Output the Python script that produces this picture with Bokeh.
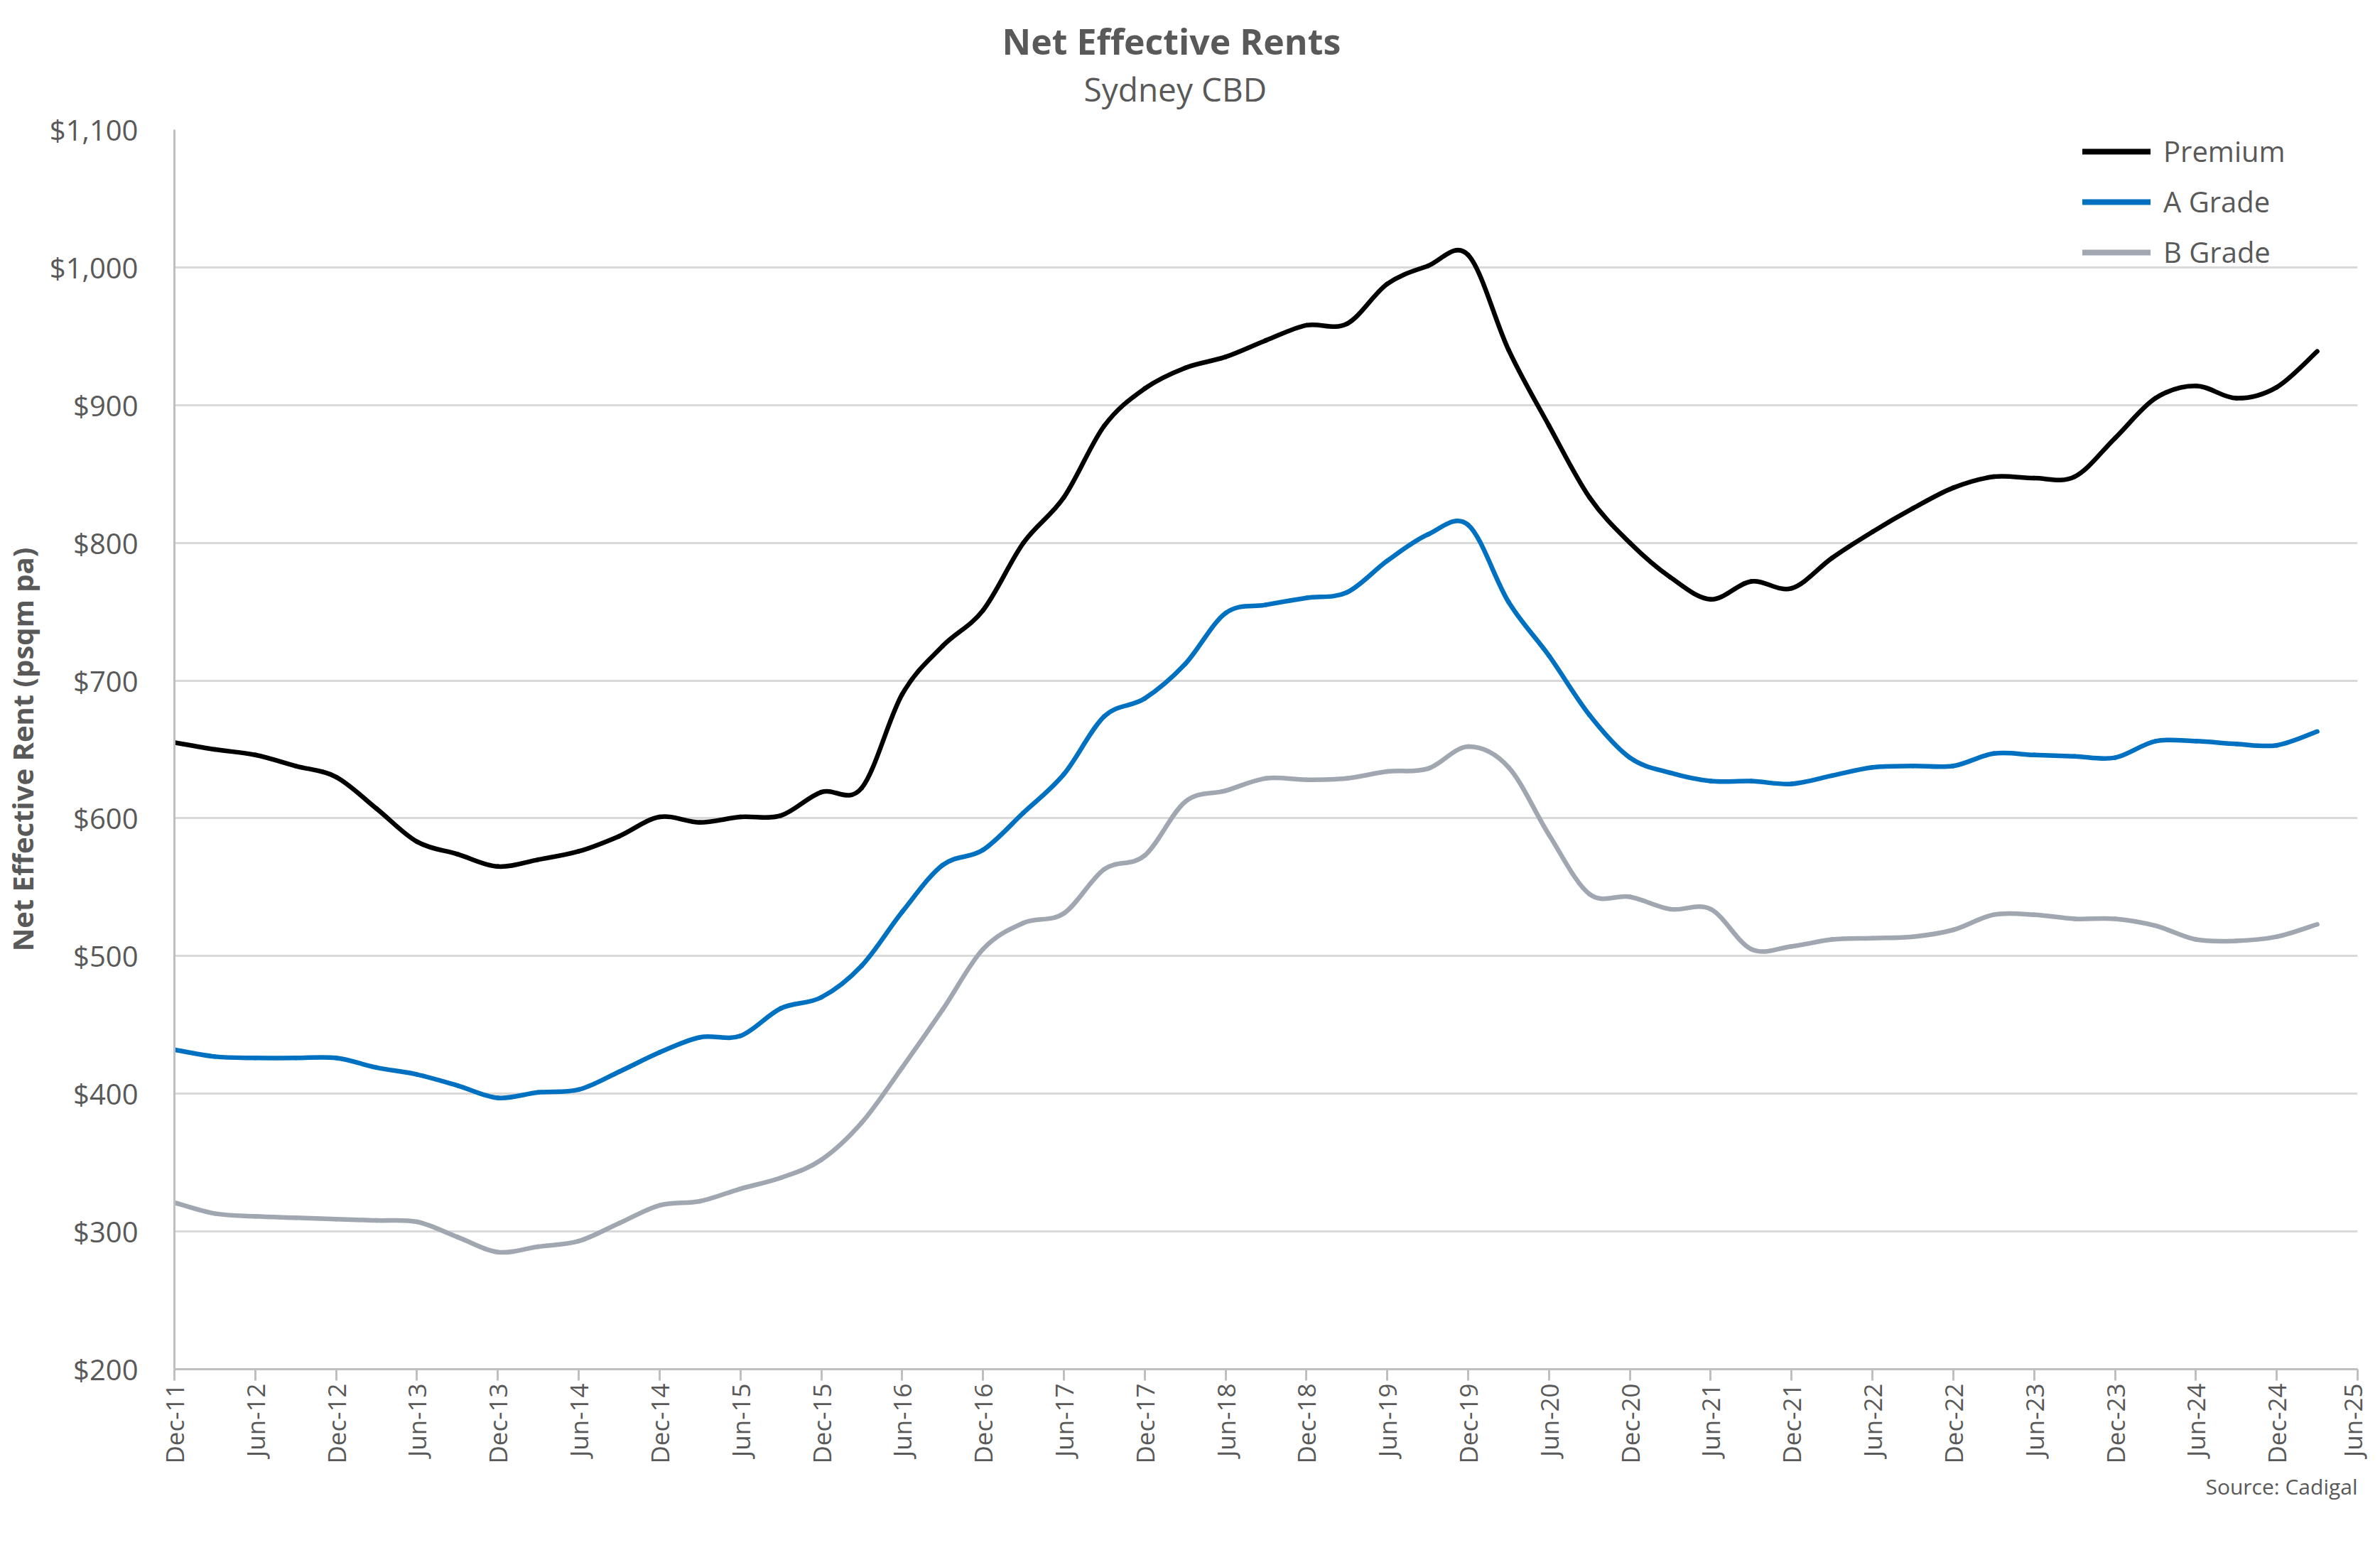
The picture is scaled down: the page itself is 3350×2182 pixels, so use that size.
import math
from bokeh.plotting import figure
from bokeh.models import (Range1d, FixedTicker, NumeralTickFormatter, Legend,
                          LegendItem, Title, ColumnDataSource)
from bokeh.embed import file_html
from bokeh.resources import INLINE

# ---------------- data ----------------
quarters = ["Dec-11", "Mar-12", "Jun-12", "Sep-12", "Dec-12", "Mar-13", "Jun-13", "Sep-13",
            "Dec-13", "Mar-14", "Jun-14", "Sep-14", "Dec-14", "Mar-15", "Jun-15", "Sep-15",
            "Dec-15", "Mar-16", "Jun-16", "Sep-16", "Dec-16", "Mar-17", "Jun-17", "Sep-17",
            "Dec-17", "Mar-18", "Jun-18", "Sep-18", "Dec-18", "Mar-19", "Jun-19", "Sep-19",
            "Dec-19", "Mar-20", "Jun-20", "Sep-20", "Dec-20", "Mar-21", "Jun-21", "Sep-21",
            "Dec-21", "Mar-22", "Jun-22", "Sep-22", "Dec-22", "Mar-23", "Jun-23", "Sep-23",
            "Dec-23", "Mar-24", "Jun-24", "Sep-24", "Dec-24", "Mar-25"]

premium = [655, 650, 646, 638, 630, 607, 583, 574,
           565, 570, 576, 587, 601, 597, 601, 602,
           619, 622, 690, 725, 751, 800, 833, 885,
           912, 927, 935, 947, 958, 959, 988, 1001,
           1009, 940, 885, 833, 800, 775, 759, 772,
           767, 789, 808, 825, 840, 848, 847, 848,
           876, 905, 914, 905, 913, 939]

a_grade = [432, 427, 426, 426, 426, 419, 414, 406,
           397, 401, 403, 416, 430, 441, 442, 462,
           470, 493, 532, 566, 577, 604, 632, 674,
           687, 712, 749, 755, 760, 764, 787, 806,
           813, 757, 718, 675, 644, 633, 627, 627,
           625, 631, 637, 638, 638, 647, 646, 645,
           644, 656, 656, 654, 653, 663]

b_grade = [321, 313, 311, 310, 309, 308, 307, 296,
           285, 289, 293, 306, 319, 322, 331, 339,
           352, 379, 419, 461, 505, 524, 531, 563,
           573, 612, 620, 629, 628, 629, 634, 636,
           652, 637, 588, 545, 543, 534, 534, 505,
           507, 512, 513, 514, 519, 530, 530, 527,
           527, 522, 512, 511, 514, 523]

tick_labels = ["Dec-11", "Jun-12", "Dec-12", "Jun-13", "Dec-13", "Jun-14", "Dec-14",
               "Jun-15", "Dec-15", "Jun-16", "Dec-16", "Jun-17", "Dec-17", "Jun-18",
               "Dec-18", "Jun-19", "Dec-19", "Jun-20", "Dec-20", "Jun-21", "Dec-21",
               "Jun-22", "Dec-22", "Jun-23", "Dec-23", "Jun-24", "Dec-24", "Jun-25"]

y_ticks = [200, 300, 400, 500, 600, 700, 800, 900, 1000, 1100]

series_names = ["Premium", "A Grade", "B Grade"]
series_colors = ["#000000", "#0070C0", "#A0A7B0"]

# ---------------- layout ----------------
FONT = "Open Sans"
TXT = "#595959"

months = [3 * i for i in range(len(quarters))]
tick_pos = [6 * i for i in range(len(tick_labels))]

p = figure(width=3334, height=2166, output_backend="svg", toolbar_location=None,
           x_range=Range1d(0, tick_pos[-1]), y_range=Range1d(y_ticks[0], y_ticks[-1]),
           min_border_left=245, min_border_right=16, min_border_top=182,
           min_border_bottom=239)
p.outline_line_color = None
p.background_fill_color = "white"
p.border_fill_color = "white"

# x axis
p.xaxis.ticker = FixedTicker(ticks=tick_pos)
p.xaxis.major_label_overrides = {t: l for t, l in zip(tick_pos, tick_labels)}
p.xaxis.major_label_orientation = math.pi / 2
p.xaxis.major_label_text_font = FONT
p.xaxis.major_label_text_font_size = "35px"
p.xaxis.major_label_text_color = TXT
p.xaxis.major_label_standoff = 4
p.xaxis.axis_line_color = "#BFBFBF"
p.xaxis.axis_line_width = 3
p.xaxis.major_tick_line_color = "#BFBFBF"
p.xaxis.major_tick_line_width = 3
p.xaxis.major_tick_out = 16
p.xaxis.major_tick_in = 0
p.xaxis.minor_tick_line_color = None

# y axis
p.yaxis.ticker = FixedTicker(ticks=y_ticks)
p.yaxis.formatter = NumeralTickFormatter(format="$0,0")
p.yaxis.major_label_text_font = FONT
p.yaxis.major_label_text_font_size = "40px"
p.yaxis.major_label_text_color = TXT
p.yaxis.major_label_standoff = 45
p.yaxis.axis_line_color = "#BFBFBF"
p.yaxis.axis_line_width = 3
p.yaxis.major_tick_line_color = None
p.yaxis.minor_tick_line_color = None
p.yaxis.axis_label = "Net Effective Rent (psqm pa)"
p.yaxis.axis_label_text_font = FONT
p.yaxis.axis_label_text_font_style = "bold"
p.yaxis.axis_label_text_font_size = "40px"
p.yaxis.axis_label_text_color = TXT
p.yaxis.axis_label_standoff = 8

p.xgrid.grid_line_color = None
p.ygrid.grid_line_color = "#D9D9D9"
p.ygrid.grid_line_width = 3


def smooth_segments(xs, ys):
    # Catmull-Rom style Bezier segments (like Excel's smoothed line)
    n = len(xs)
    d = dict(x0=[], y0=[], x1=[], y1=[], cx0=[], cy0=[], cx1=[], cy1=[])
    for i in range(n - 1):
        x0, y0 = xs[i], ys[i]
        x1, y1 = xs[i + 1], ys[i + 1]
        xp, yp = (xs[i - 1], ys[i - 1]) if i > 0 else (x0, y0)
        xn, yn = (xs[i + 2], ys[i + 2]) if i + 2 < n else (x1, y1)
        d["x0"].append(x0); d["y0"].append(y0)
        d["x1"].append(x1); d["y1"].append(y1)
        d["cx0"].append(x0 + (x1 - xp) / 6.0); d["cy0"].append(y0 + (y1 - yp) / 6.0)
        d["cx1"].append(x1 - (xn - x0) / 6.0); d["cy1"].append(y1 - (yn - y0) / 6.0)
    return ColumnDataSource(d)


items = []
nan = float("nan")
for name, vals, col in zip(series_names, [premium, a_grade, b_grade], series_colors):
    p.bezier(x0="x0", y0="y0", x1="x1", y1="y1", cx0="cx0", cy0="cy0", cx1="cx1",
             cy1="cy1", source=smooth_segments(months, vals), line_color=col,
             line_width=6.5, line_cap="round")
    # legend key only (a single undefined point, nothing drawn in the plot)
    key = p.line(x=[nan, nan], y=[nan, nan], line_color=col, line_width=8,
                 line_cap="round")
    items.append(LegendItem(label=name, renderers=[key]))

legend = Legend(items=items, location=(2686, 1545), orientation="vertical",
                label_text_font=FONT, label_text_font_size="40px",
                label_text_color=TXT, glyph_width=96, glyph_height=54,
                label_height=54, spacing=16, label_standoff=18, padding=0,
                margin=0, border_line_color=None, background_fill_alpha=0)
p.add_layout(legend, "center")

# spacer panel between plot and subtitle, then subtitle, then title
p.add_layout(Title(text=" ", text_font=FONT, text_font_size="1px", standoff=24),
             "above")
p.add_layout(Title(text="Sydney CBD", text_font=FONT, text_font_size="46px",
                   text_font_style="normal", text_color=TXT, align="left",
                   offset=1280, standoff=0), "above")
p.add_layout(Title(text="Net Effective Rents", text_font=FONT, text_font_size="50px",
                   text_font_style="bold", text_color=TXT, align="left",
                   offset=1165, standoff=0), "above")
# source note below the axis
p.add_layout(Title(text="Source: Cadigal", text_font=FONT, text_font_size="30px",
                   text_font_style="normal", text_color=TXT, align="right",
                   offset=0, standoff=12), "below")

open("out.html", "w").write(file_html(p, INLINE))
